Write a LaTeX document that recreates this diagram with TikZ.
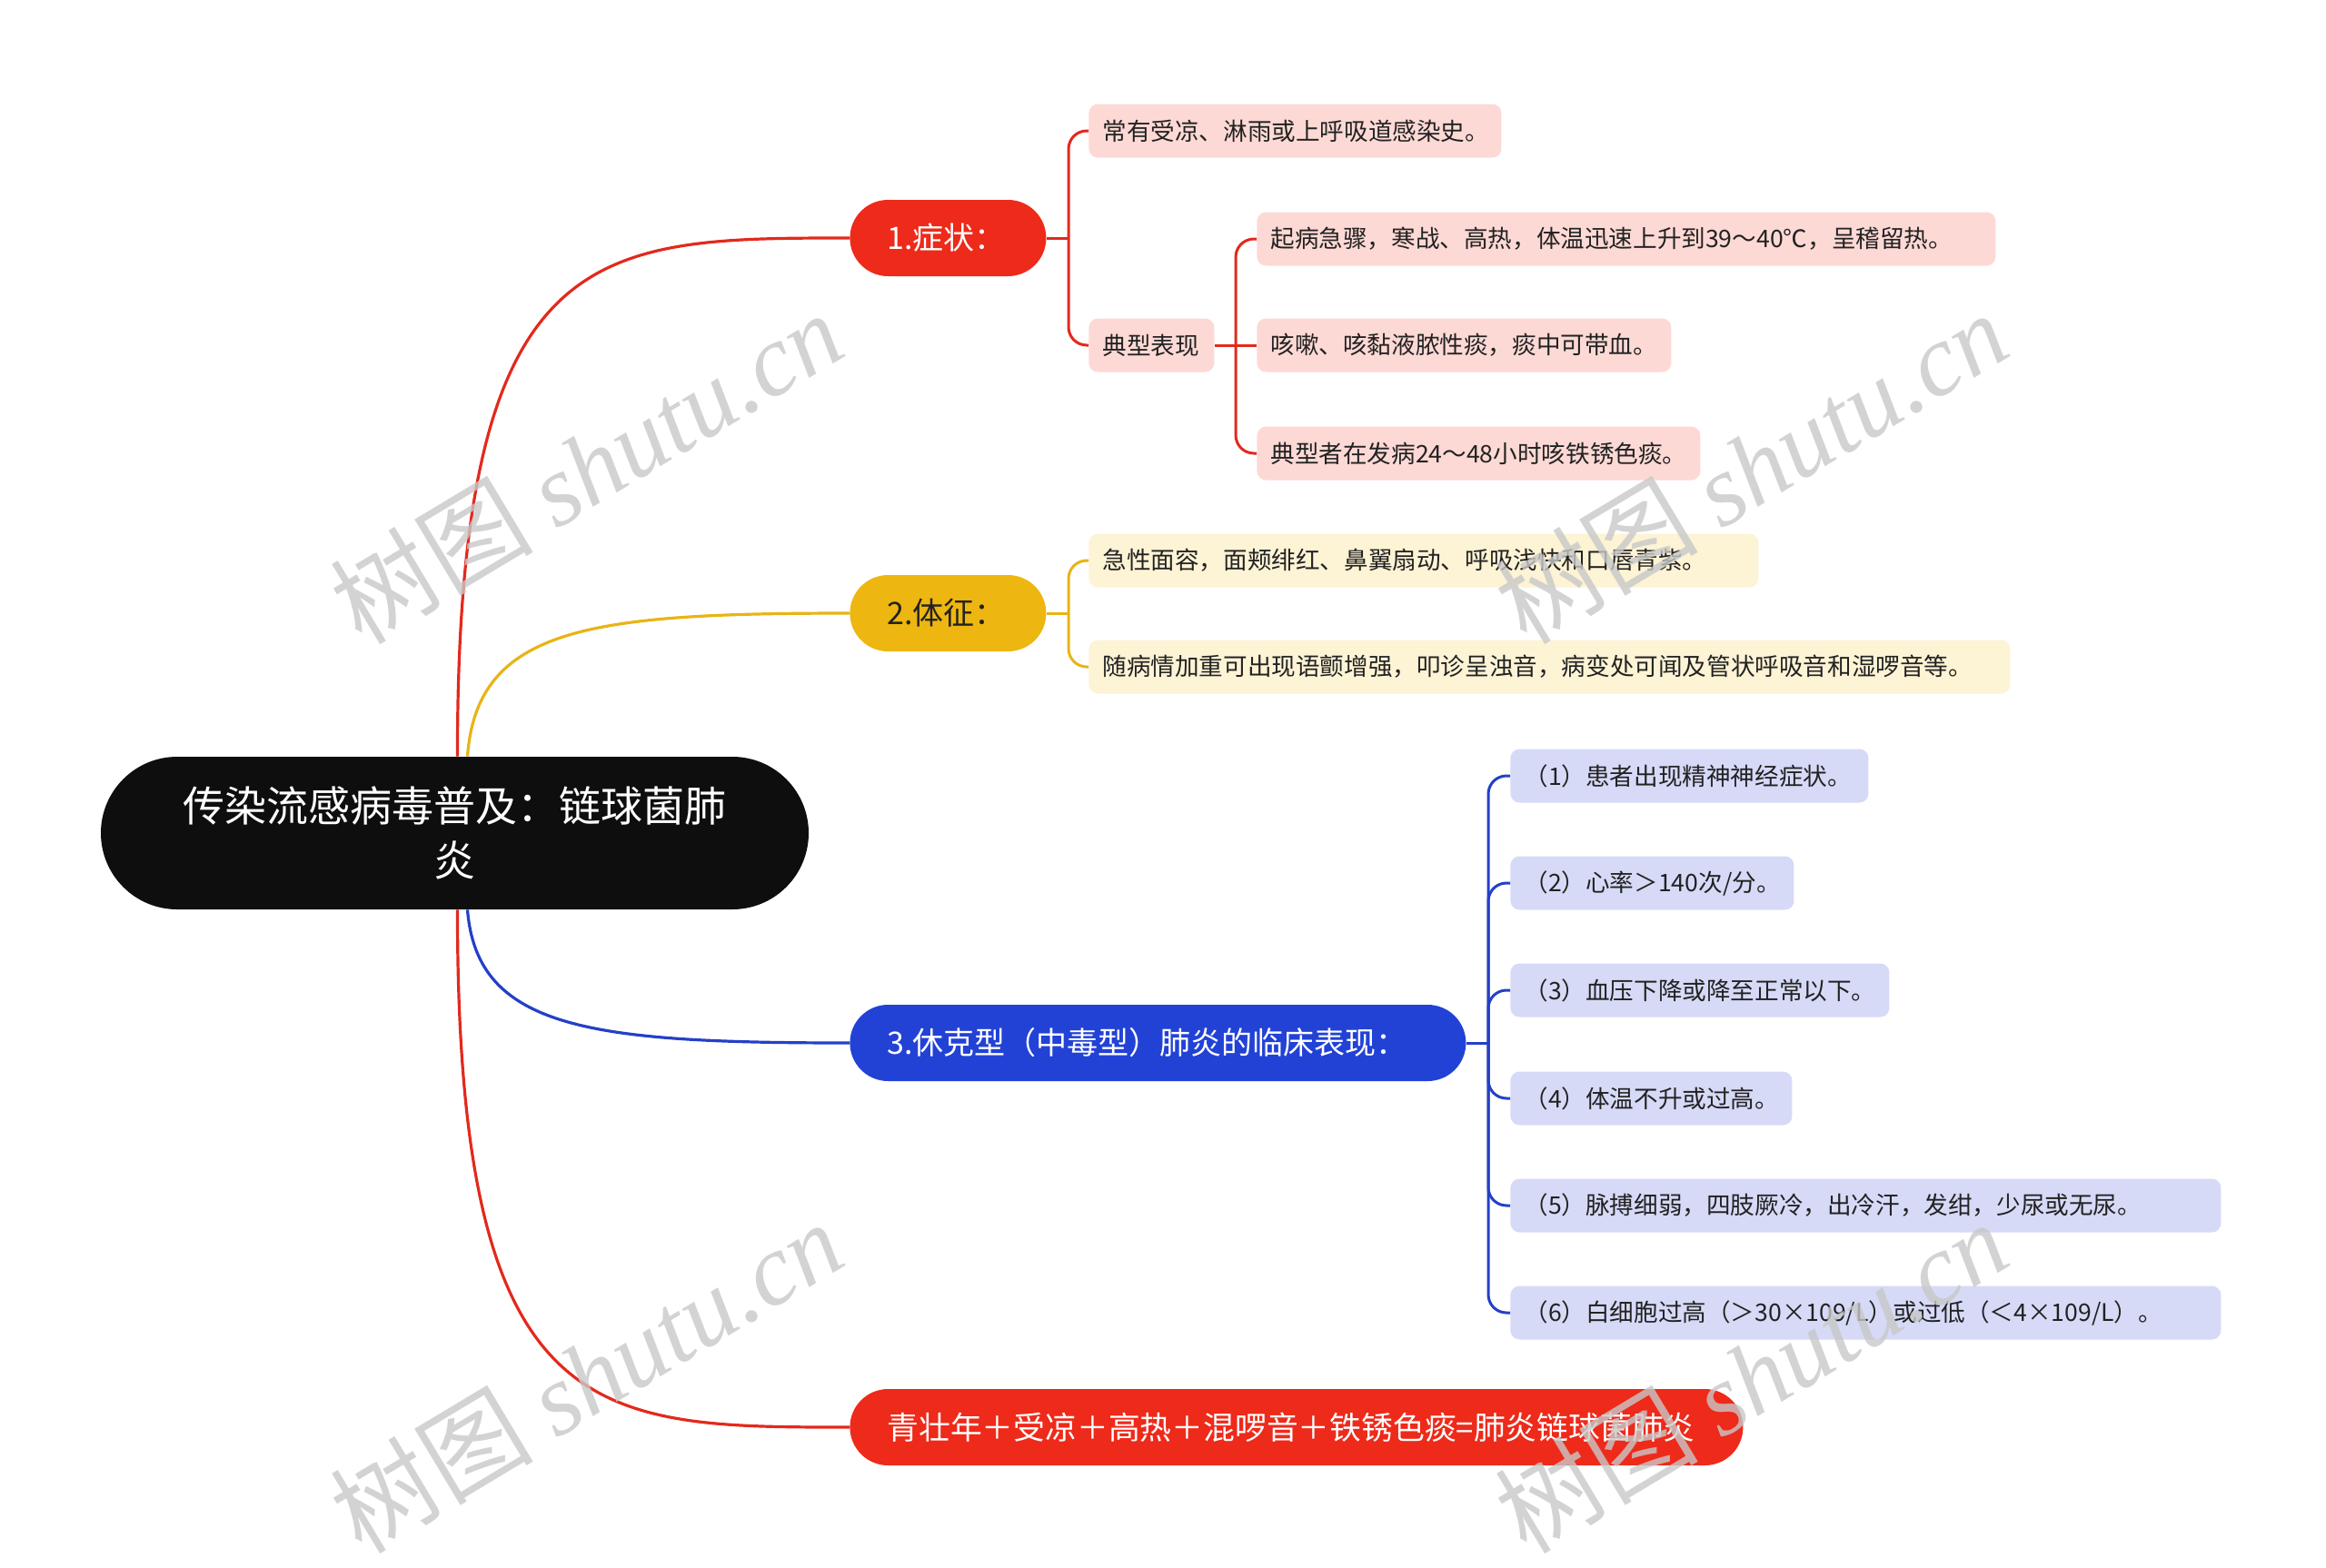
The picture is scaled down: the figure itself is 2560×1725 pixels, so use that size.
\documentclass[tikz,border=0pt]{standalone}
\usepackage{fontspec}
\setmainfont{Noto Sans CJK SC}
\newfontfamily\wmserif{Liberation Serif}
\definecolor{redfill}{HTML}{EE2A1A}
\definecolor{redline}{HTML}{E3291D}
\definecolor{yelfill}{HTML}{EDB610}
\definecolor{yelline}{HTML}{E8B416}
\definecolor{bluefill}{HTML}{2242D6}
\definecolor{blueline}{HTML}{2440C8}
\definecolor{pinkleaf}{HTML}{FDD9D5}
\definecolor{yelleaf}{HTML}{FDF3D5}
\definecolor{blueleaf}{HTML}{D6DAF7}
\definecolor{rootfill}{HTML}{0E0E0E}
\definecolor{leaftext}{HTML}{222222}
\definecolor{wmgray}{HTML}{C8C8C8}
\begin{document}
\begin{tikzpicture}[x=0.5pt,y=-0.5pt,
  rootbox/.style={fill=rootfill, text=white, rounded corners=42pt, minimum width=389.5pt, minimum height=84pt, align=center, font=\fontsize{23pt}{30pt}\selectfont},
  pill/.style={rounded corners=21pt, minimum height=42pt, inner xsep=20.5pt, inner ysep=0pt, font=\fontsize{17pt}{20pt}\selectfont, anchor=west, align=left},
  leaf/.style={rounded corners=5pt, minimum height=29.5pt, inner xsep=7.5pt, inner ysep=0pt, font=\fontsize{13.3pt}{16pt}\selectfont, text=leaftext, anchor=west, align=left},
  conn/.style={line width=1.6pt},
  brk/.style={line width=1.5pt, rounded corners=10pt},
  wm/.style={text=wmgray, text opacity=0.8, font=\fontsize{56pt}{60pt}\selectfont, rotate=31, inner sep=0pt}
]
\useasboundingbox (0,0) rectangle (2560,1725);

% root
\node[rootbox] (root) at (500.5,917) {传染流感病毒普及：链球菌肺\\炎};

% level 1
\node[pill, fill=redfill, text=white, text width=67pt] (n1) at (935,262) {1.症状：};
\node[pill, fill=yelfill, text=leaftext, text width=67pt] (n2) at (935,675) {2.体征：};
\node[pill, fill=bluefill, text=white, text width=298pt] (n3) at (935,1148) {3.休克型（中毒型）肺炎的临床表现：};
\node[pill, fill=redfill, text=white, text width=450.5pt, font=\fontsize{17.4pt}{20pt}\selectfont] (n4) at (935,1571) {青壮年＋受凉＋高热＋混啰音＋铁锈色痰=肺炎链球菌肺炎};

% branch 1
\node[leaf, fill=pinkleaf, text width=212pt] (c11) at (1198,144) {常有受凉、淋雨或上呼吸道感染史。};
\node[leaf, fill=pinkleaf, text width=54pt] (c12) at (1198,380) {典型表现};
\node[leaf, fill=pinkleaf, text width=391.5pt] (g1) at (1383,263) {起病急骤，寒战、高热，体温迅速上升到39～40℃，呈稽留热。};
\node[leaf, fill=pinkleaf, text width=213pt] (g2) at (1383,380) {咳嗽、咳黏液脓性痰，痰中可带血。};
\node[leaf, fill=pinkleaf, text width=229pt] (g3) at (1383,499) {典型者在发病24～48小时咳铁锈色痰。};

% branch 2
\node[leaf, fill=yelleaf, text width=353.5pt] (c21) at (1198,617) {急性面容，面颊绯红、鼻翼扇动、呼吸浅快和口唇青紫。};
\node[leaf, fill=yelleaf, text width=492pt] (c22) at (1198,734) {随病情加重可出现语颤增强，叩诊呈浊音，病变处可闻及管状呼吸音和湿啰音等。};

% branch 3
\node[leaf, fill=blueleaf, text width=182pt] (d1) at (1662,854) {（1）患者出现精神神经症状。};
\node[leaf, fill=blueleaf, text width=141pt] (d2) at (1662,972) {（2）心率＞140次/分。};
\node[leaf, fill=blueleaf, text width=193.5pt] (d3) at (1662,1090) {（3）血压下降或降至正常以下。};
\node[leaf, fill=blueleaf, text width=140pt] (d4) at (1662,1209) {（4）体温不升或过高。};
\node[leaf, fill=blueleaf, text width=376pt] (d5) at (1662,1327) {（5）脉搏细弱，四肢厥冷，出冷汗，发绀，少尿或无尿。};
\node[leaf, fill=blueleaf, text width=376pt] (d6) at (1662,1445) {（6）白细胞过高（＞30×109/L）或过低（＜4×109/L）。};

% root connectors
\draw[conn, redline] ([xshift=1.5pt]root.north) .. controls (503,262) and (654,262) .. (n1.west);
\draw[conn, yelline] ([xshift=7pt]root.north) .. controls (525,690) and (650,675) .. (n2.west);
\draw[conn, blueline] ([xshift=7pt]root.south) .. controls (525,1133) and (650,1148) .. (n3.west);
\draw[conn, redline] ([xshift=1.5pt]root.south) .. controls (503,1571) and (654,1571) .. (n4.west);

% brackets
\coordinate (b1) at (1176,262);
\coordinate (b2) at (1360,380);
\coordinate (b3) at (1176,675);
\coordinate (b4) at (1638,1148);

\draw[brk, redline] (n1.east) -- (b1);
\draw[brk, redline] (b1) |- (c11.west);
\draw[brk, redline] (b1) |- (c12.west);

\draw[brk, redline] (c12.east) -- (b2);
\draw[brk, redline] (b2) |- (g1.west);
\draw[brk, redline] (b2) -- (g2.west);
\draw[brk, redline] (b2) |- (g3.west);

\draw[brk, yelline] (n2.east) -- (b3);
\draw[brk, yelline] (b3) |- (c21.west);
\draw[brk, yelline] (b3) |- (c22.west);

\draw[brk, blueline] (n3.east) -- (b4);
\foreach \d in {d1,d2,d3,d4,d5,d6} {\draw[brk, blueline] (b4) |- (\d.west);}

% watermarks
\node[wm] (wm1) at (645,514) {树图 {\wmserif\itshape shutu.cn}};
\node[wm] (wm2) at (1927,514) {树图 {\wmserif\itshape shutu.cn}};
\node[wm] (wm3) at (645,1515) {树图 {\wmserif\itshape shutu.cn}};
\node[wm] (wm4) at (1927,1515) {树图 {\wmserif\itshape shutu.cn}};
\end{tikzpicture}
\end{document}
